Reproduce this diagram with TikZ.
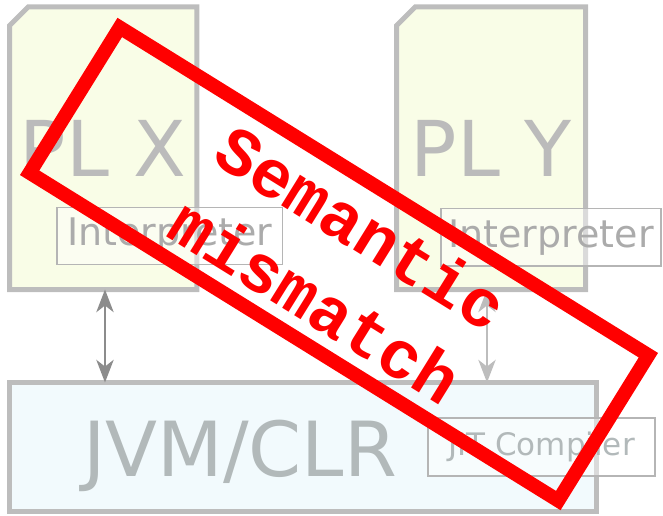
\documentclass[tikz,border=0pt]{standalone}
\usepackage{fontspec}
\setmainfont{DejaVu Sans}
\newfontfamily\stampfont{Liberation Mono}
\usepackage{xcolor}
\usetikzlibrary{arrows.meta,positioning,backgrounds}
\definecolor{boxline}{HTML}{BDBDBD}
\definecolor{plfill}{HTML}{F9FDE7}
\definecolor{vmfill}{HTML}{F2FAFD}
\definecolor{pltext}{HTML}{BBBBBB}
\definecolor{vmtext}{HTML}{B2B9BA}
\definecolor{parttext}{HTML}{ABABAB}
\definecolor{partline}{HTML}{B5B5B5}
\definecolor{stampred}{HTML}{FF0000}
\tikzset{
  plbox/.style={rectangle, outer sep=0pt, inner sep=0pt, minimum height=211.9pt,
    text=pltext, font=\fontsize{57.75}{60}\selectfont},
  plframe/.style={draw=boxline, fill=plfill, line width=3.75pt, line join=miter},
  vmbox/.style={rectangle, draw=boxline, fill=vmfill, line width=3.75pt, outer sep=0pt,
    minimum width=440.6pt, minimum height=97.1pt},
  partbox/.style={rectangle, draw=partline, fill=white, fill opacity=0.45, text opacity=1,
    line width=1.1pt, minimum height=43pt, inner sep=0pt},
  link/.style={{Stealth[length=17pt,width=13pt,inset=5pt]}-{Stealth[length=17pt,width=13pt,inset=5pt]}, line width=1.5pt},
  stamp/.style={draw=stampred, line width=10.5pt, minimum width=466.5pt, minimum height=128.25pt,
    rotate=-31.8, text=stampred, align=center,
    font=\stampfont\bfseries\fontsize{51}{65}\selectfont}
}
\begin{document}
\begin{tikzpicture}[x=0.75pt,y=-0.75pt]
\useasboundingbox (0,0) rectangle (663,516);
\node[plbox, minimum width=140.6pt] (plx) at (103.25,148.25) {PL X};
\node[plbox, minimum width=141.75pt] (ply) at (491,148.25) {PL Y};
\begin{scope}[on background layer]
\foreach \pl in {plx,ply}
  \draw[plframe] (\pl.south west) -- ([yshift=-14pt]\pl.north west) -- ([xshift=14pt]\pl.north west)
    -- (\pl.north east) -- (\pl.south east) -- cycle;
\end{scope}
\node[vmbox] (jvm) at (303.25,447.25) {};
\node[text=vmtext, anchor=base, font=\fontsize{57}{60}\selectfont] (jvmlabel) at (240,476) {JVM/CLR};
\draw[link, draw=gray!90] ([xshift=1.3pt]plx.south) -- ([xshift=1.3pt]plx.south |- jvm.north);
\draw[link, draw=boxline] ([xshift=-3pt]ply.south) -- ([xshift=-3pt]ply.south |- jvm.north);
\node[partbox, minimum width=169.1pt, text=parttext, font=\fontsize{28.5}{30}\selectfont] (interpx) at (169.75,236) {Interpreter};
\node[partbox, minimum width=165pt, text=parttext, font=\fontsize{28.5}{30}\selectfont] (interpy) at (551,237.25) {Interpreter};
\node[partbox, minimum width=170.25pt, minimum height=43.5pt, text=vmtext, font=\fontsize{23.25}{25}\selectfont] (jit) at (541.5,447) {JIT Compiler};
\node[stamp] (mismatch) at (339,264) {Semantic\\mismatch};
\end{tikzpicture}
\end{document}
